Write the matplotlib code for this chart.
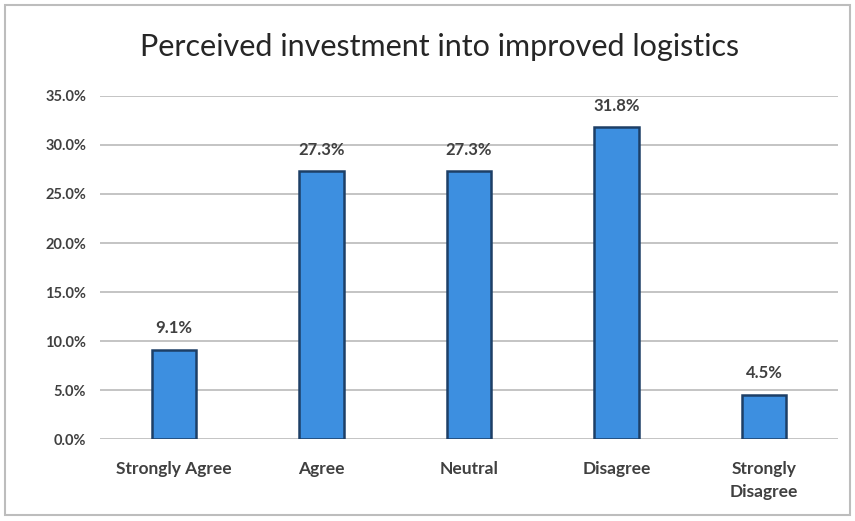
import matplotlib.pyplot as plt
from matplotlib.patches import Rectangle
from matplotlib.ticker import FuncFormatter

categories = ["Strongly Agree", "Agree", "Neutral", "Disagree", "Strongly\nDisagree"]
shares = [9.1, 27.3, 27.3, 31.8, 4.5]
yticks = [0, 5, 10, 15, 20, 25, 30, 35]

plt.rcParams['font.family'] = ['Lato', 'DejaVu Sans']

fig = plt.figure(figsize=(8.55, 5.21), dpi=100)
ax = fig.add_axes([0.117, 0.157, 0.863, 0.659])

# outer chart frame
fig.patches.append(Rectangle((0.006, 0.012), 0.988, 0.978, transform=fig.transFigure,
                             fill=False, edgecolor='#bdbdbd', linewidth=1.5))

x = range(len(categories))
ax.bar(x, shares, width=0.3, color='#3d8fe0', edgecolor='#1d3f66', linewidth=1.8, zorder=3)
for xi, v in zip(x, shares):
    ax.text(xi, v + 1.4, f"{v:.1f}%", ha='center', va='bottom', fontsize=12,
            color='#404040', fontweight='bold')

ax.set_ylim(0, 35)
ax.set_xlim(-0.5, len(categories) - 0.5)
ax.set_yticks(yticks)
ax.yaxis.set_major_formatter(FuncFormatter(lambda v, p: f"{v:.1f}%"))
ax.grid(axis='y', color='#c4c4c4', linewidth=1.4, zorder=0)
ax.set_xticks(list(x))
ax.set_xticklabels(categories, fontsize=12.5, color='#404040', fontweight='bold',
                   linespacing=1.5)
for lbl in ax.get_yticklabels():
    lbl.set_fontsize(10.5)
    lbl.set_color('#404040')
    lbl.set_fontweight('bold')
ax.tick_params(length=0, pad=10)
ax.tick_params(axis='x', pad=16)
for s in ax.spines.values():
    s.set_visible(False)

fig.text(0.514, 0.909, "Perceived investment into improved logistics", ha='center', va='center',
         fontsize=22, color='#262626')

fig.savefig("out.png", dpi=100)
